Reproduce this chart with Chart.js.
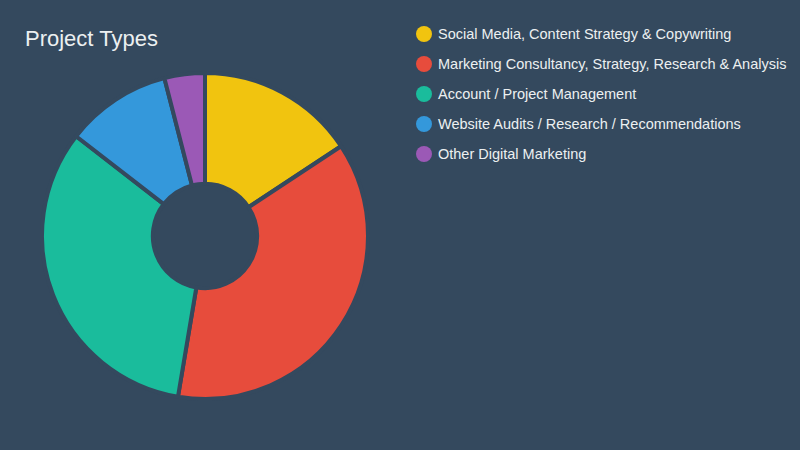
<!DOCTYPE html>
<html>
<head>
<meta charset="utf-8">
<script src="https://cdn.jsdelivr.net/npm/chart.js@4"></script>
<style>
  body { margin: 0; background: #34495e; width: 800px; height: 450px; overflow: hidden; font-family: "Liberation Sans", Arial, sans-serif; }
  #title { position: absolute; left: 25px; top: 26px; color: #ecf0f1; font-size: 22px; }
  #wrap { position: absolute; left: 40px; top: 71px; width: 330px; height: 330px; }
  #legend { position: absolute; left: 416px; top: 24px; margin: 0; padding: 0; list-style: none; }
  #legend li { height: 30px; line-height: 20px; color: #ecf0f1; font-size: 14.5px; display: flex; align-items: flex-start; }
  #legend span { width: 16px; height: 16px; border-radius: 50%; margin: 2px 6px 0 0; display: inline-block; }
</style>
</head>
<body>
<div id="title">Project Types</div>
<div id="wrap"><canvas id="pie"></canvas></div>
<ul id="legend"></ul>
<script>
const categories = [
  "Social Media, Content Strategy & Copywriting",
  "Marketing Consultancy, Strategy, Research & Analysis",
  "Account / Project Management",
  "Website Audits / Research / Recommendations",
  "Other Digital Marketing"
];
const values = [15.7, 36.9, 32.8, 10.5, 4.0];
const colors = ["#f1c40f", "#e74c3c", "#1abc9c", "#3498db", "#9b59b6"];

const legend = document.getElementById("legend");
categories.forEach((c, i) => {
  const li = document.createElement("li");
  li.innerHTML = '<span style="background:' + colors[i] + '"></span>' + c;
  legend.appendChild(li);
});

new Chart(document.getElementById("pie"), {
  type: "doughnut",
  data: {
    labels: categories,
    datasets: [{
      data: values,
      backgroundColor: colors,
      borderColor: "#34495e",
      borderWidth: 4
    }]
  },
  options: {
    responsive: true,
    maintainAspectRatio: false,
    animation: false,
    cutout: "32%",
    plugins: { legend: { display: false }, tooltip: { enabled: false } }
  }
});
</script>
</body>
</html>
